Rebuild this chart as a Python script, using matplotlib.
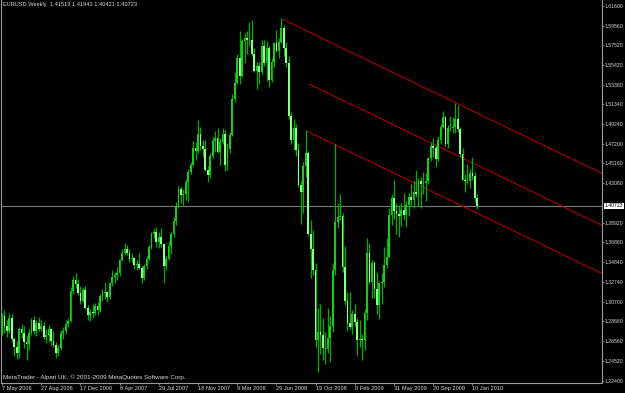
import numpy as np
import pandas as pd
import matplotlib
matplotlib.use('Agg')
import matplotlib.pyplot as plt
import matplotlib.transforms as mtransforms

plt.rcParams['font.family'] = ['Liberation Sans', 'DejaVu Sans']

# EURUSD weekly candles, first week = 7 May 2006
start_date = '2006-05-07'
opens = [
    1.2740, 1.2920, 1.2820, 1.2760, 1.2900, 1.2680, 1.2600, 1.2530, 1.2780, 1.2740,
    1.2650, 1.2630, 1.2740, 1.2880, 1.2760, 1.2850, 1.2780, 1.2820, 1.2700, 1.2720,
    1.2780, 1.2660, 1.2620, 1.2530, 1.2580, 1.2740, 1.2760, 1.2840, 1.2870, 1.3180,
    1.3300, 1.3250, 1.3160, 1.3080, 1.3190, 1.3000, 1.2930, 1.2960, 1.2950, 1.3020,
    1.2980, 1.3130, 1.3160, 1.3170, 1.3120, 1.3260, 1.3330, 1.3350, 1.3370, 1.3500,
    1.3580, 1.3620, 1.3580, 1.3520, 1.3530, 1.3450, 1.3460, 1.3420, 1.3320, 1.3440,
    1.3520, 1.3640, 1.3780, 1.3800, 1.3690, 1.3750, 1.3670, 1.3440, 1.3520, 1.3650,
    1.3780, 1.3910, 1.4070, 1.4250, 1.4180, 1.4200, 1.4320, 1.4420, 1.4500, 1.4680,
    1.4640, 1.4820, 1.4700, 1.4670, 1.4450, 1.4390, 1.4590, 1.4750, 1.4780, 1.4630,
    1.4740, 1.4820, 1.4500, 1.4670, 1.4810, 1.5190, 1.5360, 1.5620, 1.5430, 1.5790,
    1.5830, 1.5800, 1.5810, 1.5660, 1.5480, 1.5530, 1.5470, 1.5740, 1.5560, 1.5720,
    1.5390, 1.5580, 1.5770, 1.5690, 1.5780, 1.5930, 1.5720, 1.5560, 1.5010, 1.4760,
    1.4880, 1.4660, 1.4290, 1.4220, 1.4490, 1.4620, 1.3780, 1.3620, 1.3400, 1.2670,
    1.2750, 1.2720, 1.2590, 1.2570, 1.2690, 1.2810, 1.3400, 1.3900, 1.3950, 1.3970,
    1.3430, 1.3080, 1.2850, 1.2800, 1.2940, 1.2860, 1.2670, 1.2680, 1.2670, 1.2950,
    1.3580, 1.3280, 1.3470, 1.3200, 1.3030, 1.3260, 1.3270, 1.3450, 1.3540, 1.3980,
    1.4150, 1.4020, 1.3990, 1.3960, 1.4030, 1.3980, 1.4080, 1.4160, 1.4130, 1.4220,
    1.4190, 1.4330, 1.4300, 1.4310, 1.4330, 1.4570, 1.4700, 1.4680, 1.4560, 1.4760,
    1.4900, 1.5000, 1.4720, 1.4880, 1.4890, 1.4900, 1.4980, 1.4870, 1.4610, 1.4340,
    1.4330, 1.4330, 1.4410, 1.4380, 1.41519,
]
highs = [
    1.2950, 1.2980, 1.2880, 1.2950, 1.2940, 1.2700, 1.2660, 1.2800, 1.2840, 1.2820,
    1.2720, 1.2780, 1.2900, 1.2920, 1.2880, 1.2910, 1.2880, 1.2860, 1.2780, 1.2830,
    1.2790, 1.2760, 1.2650, 1.2620, 1.2770, 1.2800, 1.2880, 1.2900, 1.3220, 1.3340,
    1.3367, 1.3310, 1.3230, 1.3220, 1.3230, 1.3030, 1.2990, 1.3040, 1.3060, 1.3070,
    1.3150, 1.3200, 1.3280, 1.3180, 1.3280, 1.3400, 1.3380, 1.3430, 1.3520, 1.3620,
    1.3682, 1.3660, 1.3620, 1.3580, 1.3540, 1.3510, 1.3580, 1.3440, 1.3460, 1.3550,
    1.3660, 1.3800, 1.3840, 1.3852, 1.3800, 1.3840, 1.3680, 1.3550, 1.3700, 1.3800,
    1.3950, 1.4110, 1.4280, 1.4280, 1.4250, 1.4350, 1.4460, 1.4530, 1.4750, 1.4740,
    1.4967, 1.4900, 1.4760, 1.4760, 1.4490, 1.4620, 1.4790, 1.4850, 1.4880, 1.4780,
    1.4880, 1.4860, 1.4730, 1.4840, 1.5240, 1.5470, 1.5660, 1.5903, 1.5820, 1.5880,
    1.5900, 1.5990, 1.6019, 1.5720, 1.5570, 1.5570, 1.5800, 1.5800, 1.5790, 1.5740,
    1.5620, 1.5780, 1.5910, 1.5830, 1.6038, 1.5960, 1.5780, 1.5640, 1.5050, 1.4980,
    1.4930, 1.4730, 1.4330, 1.4530, 1.4867, 1.4640, 1.3920, 1.3820, 1.3470, 1.3000,
    1.3050, 1.2900, 1.2750, 1.3000, 1.2920, 1.3470, 1.4720, 1.4100, 1.4190, 1.4000,
    1.3650, 1.3170, 1.3170, 1.2980, 1.3050, 1.2900, 1.2880, 1.2730, 1.2990, 1.3738,
    1.3680, 1.3500, 1.3490, 1.3380, 1.3280, 1.3370, 1.3640, 1.3740, 1.4050, 1.4200,
    1.4338, 1.4100, 1.4080, 1.4100, 1.4210, 1.4120, 1.4210, 1.4300, 1.4330, 1.4450,
    1.4360, 1.4370, 1.4420, 1.4410, 1.4580, 1.4740, 1.4780, 1.4710, 1.4800, 1.4930,
    1.5061, 1.5010, 1.4920, 1.5010, 1.5000, 1.5144, 1.5130, 1.4900, 1.4680, 1.4400,
    1.4510, 1.4460, 1.4580, 1.4420, 1.41943,
]
lows = [
    1.2720, 1.2740, 1.2700, 1.2740, 1.2650, 1.2500, 1.2470, 1.2480, 1.2690, 1.2590,
    1.2460, 1.2560, 1.2720, 1.2730, 1.2710, 1.2760, 1.2760, 1.2680, 1.2640, 1.2650,
    1.2620, 1.2600, 1.2480, 1.2500, 1.2560, 1.2680, 1.2730, 1.2800, 1.2860, 1.3150,
    1.3210, 1.3140, 1.3050, 1.3070, 1.2990, 1.2880, 1.2866, 1.2900, 1.2930, 1.2930,
    1.2960, 1.3080, 1.3100, 1.3070, 1.3100, 1.3230, 1.3260, 1.3300, 1.3340, 1.3490,
    1.3560, 1.3560, 1.3480, 1.3480, 1.3410, 1.3400, 1.3410, 1.3265, 1.3300, 1.3410,
    1.3500, 1.3620, 1.3740, 1.3640, 1.3630, 1.3640, 1.3260, 1.3400, 1.3510, 1.3570,
    1.3750, 1.3870, 1.4050, 1.4100, 1.4070, 1.4130, 1.4110, 1.4400, 1.4490, 1.4550,
    1.4620, 1.4650, 1.4580, 1.4440, 1.4325, 1.4370, 1.4570, 1.4630, 1.4620, 1.4500,
    1.4720, 1.4440, 1.4450, 1.4620, 1.4800, 1.5160, 1.5340, 1.5350, 1.5420, 1.5560,
    1.5660, 1.5740, 1.5640, 1.5470, 1.5290, 1.5340, 1.5450, 1.5530, 1.5380, 1.5310,
    1.5370, 1.5520, 1.5680, 1.5620, 1.5770, 1.5640, 1.5520, 1.4980, 1.4720, 1.4650,
    1.4590, 1.4270, 1.3880, 1.4000, 1.4370, 1.3760, 1.3320, 1.3350, 1.2600, 1.2330,
    1.2520, 1.2460, 1.2420, 1.2530, 1.2440, 1.2750, 1.3350, 1.3840, 1.3920, 1.3380,
    1.3030, 1.2760, 1.2780, 1.2730, 1.2810, 1.2510, 1.2600, 1.2457, 1.2560, 1.2880,
    1.3250, 1.3110, 1.3110, 1.2940, 1.2885, 1.3040, 1.3220, 1.3420, 1.3530, 1.3870,
    1.3930, 1.3780, 1.3745, 1.3860, 1.3920, 1.3850, 1.3970, 1.4070, 1.4050, 1.4160,
    1.4070, 1.4050, 1.4190, 1.4120, 1.4300, 1.4540, 1.4580, 1.4480, 1.4540, 1.4720,
    1.4880, 1.4700, 1.4680, 1.4850, 1.4830, 1.4830, 1.4840, 1.4580, 1.4340, 1.4220,
    1.4300, 1.4260, 1.4340, 1.4110, 1.40421,
]
closes = [
    1.2920, 1.2820, 1.2760, 1.2900, 1.2680, 1.2600, 1.2530, 1.2780, 1.2740, 1.2650,
    1.2630, 1.2740, 1.2880, 1.2760, 1.2850, 1.2780, 1.2820, 1.2700, 1.2720, 1.2780,
    1.2660, 1.2620, 1.2530, 1.2580, 1.2740, 1.2760, 1.2840, 1.2870, 1.3180, 1.3300,
    1.3250, 1.3160, 1.3080, 1.3190, 1.3000, 1.2930, 1.2960, 1.2950, 1.3020, 1.2980,
    1.3130, 1.3160, 1.3170, 1.3120, 1.3260, 1.3330, 1.3350, 1.3370, 1.3500, 1.3580,
    1.3620, 1.3580, 1.3520, 1.3530, 1.3450, 1.3460, 1.3420, 1.3320, 1.3440, 1.3520,
    1.3640, 1.3780, 1.3800, 1.3690, 1.3750, 1.3670, 1.3440, 1.3520, 1.3650, 1.3780,
    1.3910, 1.4070, 1.4250, 1.4180, 1.4200, 1.4320, 1.4420, 1.4500, 1.4680, 1.4640,
    1.4820, 1.4700, 1.4670, 1.4450, 1.4390, 1.4590, 1.4750, 1.4780, 1.4630, 1.4740,
    1.4820, 1.4500, 1.4670, 1.4810, 1.5190, 1.5360, 1.5620, 1.5430, 1.5790, 1.5830,
    1.5800, 1.5810, 1.5660, 1.5480, 1.5530, 1.5470, 1.5740, 1.5560, 1.5720, 1.5390,
    1.5580, 1.5770, 1.5690, 1.5780, 1.5930, 1.5720, 1.5560, 1.5010, 1.4760, 1.4880,
    1.4660, 1.4290, 1.4220, 1.4490, 1.4620, 1.3780, 1.3620, 1.3400, 1.2670, 1.2750,
    1.2720, 1.2590, 1.2570, 1.2690, 1.2810, 1.3400, 1.3900, 1.3950, 1.3970, 1.3430,
    1.3080, 1.2850, 1.2800, 1.2940, 1.2860, 1.2670, 1.2680, 1.2670, 1.2950, 1.3580,
    1.3280, 1.3470, 1.3200, 1.3030, 1.3260, 1.3270, 1.3450, 1.3540, 1.3980, 1.4150,
    1.4020, 1.3990, 1.3960, 1.4030, 1.3980, 1.4080, 1.4160, 1.4130, 1.4220, 1.4190,
    1.4330, 1.4300, 1.4310, 1.4330, 1.4570, 1.4700, 1.4680, 1.4560, 1.4760, 1.4900,
    1.5000, 1.4720, 1.4880, 1.4890, 1.4900, 1.4980, 1.4870, 1.4610, 1.4340, 1.4330,
    1.4330, 1.4410, 1.4380, 1.4150, 1.40723,
]

# axis labels as MetaTrader shows them
date_labels = ['7 May 2006', '27 Aug 2006', '17 Dec 2006', '8 Apr 2007', '29 Jul 2007',
               '18 Nov 2007', '9 Mar 2008', '29 Jun 2008', '19 Oct 2008', '8 Feb 2009',
               '31 May 2009', '20 Sep 2009', '10 Jan 2010']
price_ticks = [1.61600, 1.59560, 1.57520, 1.55420, 1.53380, 1.51340, 1.49240, 1.47200,
               1.45160, 1.43060, 1.38920, 1.36880, 1.34840, 1.32740, 1.30700, 1.28660,
               1.26560, 1.24520, 1.22400]

# trend channel drawn on the chart (start week, price at start), common slope per week
channel_start_week = [114.6, 125.3, 124.4]
channel_start_price = [1.6021, 1.5345, 1.4853]
channel_slope = -0.001236

o = np.array(opens)
h = np.array(highs)
l = np.array(lows)
c = np.array(closes)
weeks = np.arange(len(c))

W, H = 625, 393
fig = plt.figure(figsize=(W / 100, H / 100), dpi=100, facecolor='black')
ax = fig.add_axes([1 / W, (H - 383) / H, 601 / W, 383 / H], facecolor='black')

fs = 4.1
fs_price = 3.7
txt = '#d8d8d8'

# horizontal line at current price
ax.axhline(c[-1], color='#7a7a7a', lw=0.8, zorder=1)

# channel
x_right = 244.9
for sw, sp in zip(channel_start_week, channel_start_price):
    ax.plot([sw, x_right], [sp, sp + channel_slope * (x_right - sw)],
            color='#b00000', lw=0.8, zorder=2)

# candles
up = c >= o
ax.vlines(weeks, l, h, color='#00b000', lw=0.9, zorder=3)
body = np.maximum(np.abs(c - o), 0.0008)
ax.bar(weeks[up], body[up], bottom=o[up], width=0.72, color='#1ec81e', lw=0, zorder=4)
ax.bar(weeks[~up], body[~up], bottom=c[~up], width=0.72, color='#8cff8c', lw=0, zorder=4)

ax.set_xlim(-0.41, x_right)
ax.set_ylim(1.2219, 1.6223)

for s in ['left', 'right', 'bottom']:
    ax.spines[s].set_color('#9a9a9a')
    ax.spines[s].set_linewidth(0.8)
ax.spines['top'].set_visible(False)

# price scale on the right
ax.yaxis.tick_right()
ax.set_yticks(price_ticks)
ax.set_yticklabels([f'{v:.5f}' for v in price_ticks])
ax.tick_params(axis='y', colors='#9a9a9a', labelcolor=txt, labelsize=fs_price,
               length=1.5, width=0.6, pad=0.7)

# current price tag
tr = mtransforms.blended_transform_factory(ax.transAxes, ax.transData)
ax.text(1 + 3 / 601, c[-1], f'{c[-1]:.5f}', transform=tr, fontsize=fs_price,
        color='black', va='center', ha='left',
        bbox=dict(facecolor='white', edgecolor='none', pad=0.5))

# time scale
dates = pd.to_datetime(date_labels, format='%d %b %Y')
tick_weeks = (dates - pd.Timestamp(start_date)).days / 7
ax.set_xticks(tick_weeks)
ax.set_xticklabels(date_labels)
ax.tick_params(axis='x', colors='#9a9a9a', labelcolor=txt, labelsize=fs,
               length=1.5, width=0.6, pad=0.7)
for lbl in ax.get_xticklabels():
    lbl.set_ha('left')

fig.text(3 / W, 1 - 2 / H,
         f'EURUSD,Weekly  {o[-1]:.5f} {h[-1]:.5f} {l[-1]:.5f} {c[-1]:.5f}',
         color=txt, fontsize=fs, va='top', ha='left')
fig.text(3 / W, 1 - 379 / H,
         'MetaTrader - Alpari UK, \u00a9 2001-2009 MetaQuotes Software Corp.',
         color=txt, fontsize=4.5, va='baseline', ha='left')

fig.savefig('out.png', dpi=100, facecolor='black')
